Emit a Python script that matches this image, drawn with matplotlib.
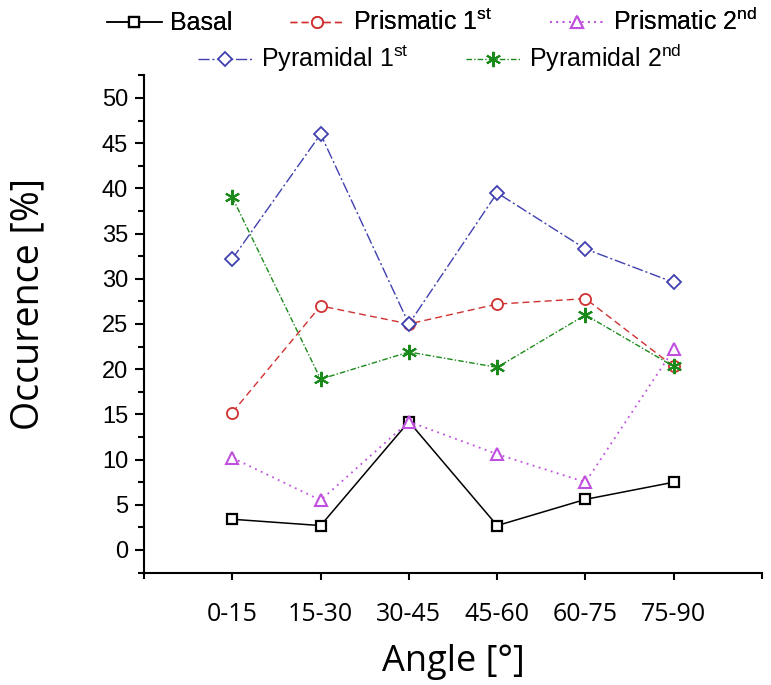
import numpy as np
import matplotlib
matplotlib.use('Agg')
import matplotlib.pyplot as plt
from matplotlib.ticker import MultipleLocator, FixedLocator

angles = ['0-15', '15-30', '30-45', '45-60', '60-75', '75-90']
basal = [3.4, 2.7, 14.2, 2.7, 5.6, 7.5]
prism_1 = [15.2, 27.0, 25.0, 27.2, 27.8, 20.3]
prism_2 = [10.2, 5.5, 14.2, 10.6, 7.5, 22.2]
pyram_1 = [32.2, 46.0, 25.0, 39.5, 33.3, 29.6]
pyram_2 = [39.0, 18.9, 21.9, 20.2, 26.0, 20.3]

x = np.arange(1, len(angles) + 1)

fig = plt.figure(figsize=(7.71, 6.85), dpi=100)
ax = fig.add_axes([0.1868, 0.1641, 0.8016, 0.7259])

ms = 8
h_basal, = ax.plot(x, basal, color='black', ls='-', lw=1.1, marker='s', ms=ms - 1,
                   mfc='white', mew=1.6, label='Basal')
h_p1, = ax.plot(x, prism_1, color='#d03030', ls=(0, (5, 3)), lw=1.0, marker='o', ms=ms,
                mfc='white', mew=1.3, label='Prismatic 1$^{\\mathregular{st}}$')
h_p2, = ax.plot(x, prism_2, color='#c050e0', ls=(0, (1, 2.5)), lw=1.3, marker='^', ms=ms + 1,
                mfc='white', mew=1.5, label='Prismatic 2$^{\\mathregular{nd}}$')
h_y1, = ax.plot(x, pyram_1, color='#4040b0', ls=(0, (8, 2, 1.5, 2)), lw=1.0, marker='D', ms=ms - 1,
                mfc='white', mew=1.3, label='Pyramidal 1$^{\\mathregular{st}}$')
h_y2, = ax.plot(x, pyram_2, color='#1a8a1a', ls=(0, (4, 1.5, 1, 1.5)), lw=1.0, marker=(6, 2, 0), ms=ms + 3,
                mew=1.5, label='Pyramidal 2$^{\\mathregular{nd}}$')

ax.set_xlim(0, 7)
ax.set_ylim(-2.5, 52.5)
ax.xaxis.set_major_locator(FixedLocator(x))
ax.xaxis.set_minor_locator(FixedLocator([0, 7]))
ax.set_xticklabels(angles, fontsize=18, family='Open Sans')
ax.yaxis.set_major_locator(FixedLocator(np.arange(0, 51, 5)))
ax.yaxis.set_minor_locator(MultipleLocator(2.5))
for lab in ax.get_yticklabels():
    lab.set_fontsize(17)
    lab.set_family('Liberation Sans')

ax.spines['top'].set_visible(False)
ax.spines['right'].set_visible(False)
ax.spines['left'].set_linewidth(1.5)
ax.spines['bottom'].set_linewidth(1.5)
ax.tick_params(axis='y', which='major', direction='out', length=6.5, width=1.5, pad=5)
ax.tick_params(axis='y', which='minor', direction='out', length=4, width=1.5)
ax.tick_params(axis='x', which='major', direction='out', length=5, width=1.5, pad=16)
ax.tick_params(axis='x', which='minor', direction='out', length=4, width=1.5)

ax.set_xlabel('Angle [°]', fontsize=26, family='Open Sans', va='center')
ax.xaxis.set_label_coords(0.5, (572.6 - 662) / 497.2)
ax.set_ylabel('Occurence [%]', fontsize=27, family='Open Sans', va='center')
ax.yaxis.set_label_coords((28 - 144) / 618.0, (572.6 - 304) / 497.2)

leg_kw = dict(loc='center', ncol=3, frameon=False,
              prop={'family': 'Liberation Sans', 'size': 18},
              handlelength=2.2, handletextpad=0.32, columnspacing=2.3,
              borderaxespad=0, borderpad=0)
leg1 = fig.legend(handles=[h_basal, h_p1, h_p2], bbox_to_anchor=(0.560, 0.968), **leg_kw)
leg_kw['ncol'] = 2
leg2 = fig.legend(handles=[h_y1, h_y2], bbox_to_anchor=(0.570, 0.915), **leg_kw)
fig.add_artist(leg1)

plt.savefig('out.png', dpi=100, facecolor='w')
